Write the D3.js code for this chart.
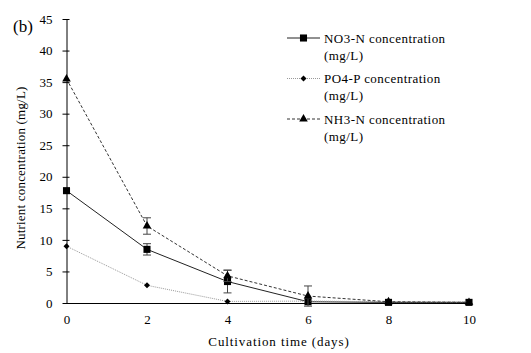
<!DOCTYPE html>
<html>
<head>
<meta charset="utf-8">
<script src="https://cdnjs.cloudflare.com/ajax/libs/d3/7.8.5/d3.min.js"></script>
<style>
  body { margin: 0; background: #fff; }
  text { font-family: "Liberation Serif", "Times New Roman", serif; fill: #000; }
</style>
</head>
<body>
<div id="chart"></div>
<script>
// data
var days = [0, 2, 4, 6, 8, 10];
var no3 = [17.8, 8.5, 3.4, 0.2, 0.1, 0.1];
var no3Err = [0, 0.9, 1.8, 0, 0, 0];
var po4 = [9.0, 2.8, 0.25, 0.3, 0.2, 0.15];
var po4Err = [0, 0, 0, 0, 0, 0];
var nh3 = [35.5, 12.2, 4.3, 1.1, 0.2, 0.1];
var nh3Err = [0, 1.3, 0.9, 1.6, 0, 0];
var yTicks = [0, 5, 10, 15, 20, 25, 30, 35, 40, 45];
var xTicks = [0, 2, 4, 6, 8, 10];

var svgWidth = 531, svgHeight = 353;
var margin = { top: 19, right: 62, bottom: 50, left: 66.5 };
var chartWidth = svgWidth - margin.left - margin.right;
var chartHeight = svgHeight - margin.top - margin.bottom;

var svg = d3.select("#chart").append("svg")
  .attr("width", svgWidth)
  .attr("height", svgHeight);

var chartGroup = svg.append("g")
  .attr("transform", `translate(${margin.left}, ${margin.top})`);

var xScale = d3.scaleLinear().domain([0, 10]).range([0, chartWidth]);
var yScale = d3.scaleLinear().domain([0, 45]).range([chartHeight, 0]);

// y axis with ticks crossing the line
var leftAxis = d3.axisLeft(yScale).tickValues(yTicks).tickSize(0).tickPadding(14);
var yAxis = chartGroup.append("g").call(leftAxis);
yAxis.select(".domain").attr("stroke", "#000");
yAxis.selectAll(".tick line").attr("x1", -4).attr("x2", 3).attr("stroke", "#000");
yAxis.selectAll(".tick text")
  .attr("font-size", "13px")
  .attr("font-family", "Liberation Serif");

// x axis, no tick marks
var bottomAxis = d3.axisBottom(xScale).tickValues(xTicks).tickSize(0).tickPadding(12);
var xAxis = chartGroup.append("g")
  .attr("transform", `translate(0, ${chartHeight})`)
  .call(bottomAxis);
xAxis.select(".domain").attr("stroke", "#000");
xAxis.selectAll(".tick text")
  .attr("font-size", "13px")
  .attr("font-family", "Liberation Serif");

var series = [
  { name: "NO3-N concentration", vals: no3, err: no3Err, stroke: "#222", dash: null, shape: d3.symbolSquare, size: 50, rot: 0 },
  { name: "PO4-P concentration", vals: po4, err: po4Err, stroke: "#999", dash: "1,1", shape: d3.symbolSquare, size: 18, rot: 45 },
  { name: "NH3-N concentration", vals: nh3, err: nh3Err, stroke: "#333", dash: "3,2", shape: d3.symbolTriangle, size: 32, rot: 0 }
];

var line = d3.line()
  .x(d => xScale(d.x))
  .y(d => yScale(d.y));

series.forEach(s => {
  var pts = days.map((x, i) => ({ x: x, y: s.vals[i], e: s.err[i] }));

  chartGroup.append("path")
    .datum(pts)
    .attr("d", line)
    .attr("fill", "none")
    .attr("stroke", s.stroke)
    .attr("stroke-width", 1)
    .attr("stroke-dasharray", s.dash);

  // error bars
  var eb = chartGroup.selectAll(null)
    .data(pts.filter(d => d.e > 0))
    .enter().append("g")
    .attr("stroke", "#444")
    .attr("stroke-width", 1);
  eb.append("line")
    .attr("x1", d => xScale(d.x)).attr("x2", d => xScale(d.x))
    .attr("y1", d => yScale(d.y + d.e)).attr("y2", d => yScale(d.y - d.e));
  eb.append("line")
    .attr("x1", d => xScale(d.x) - 4).attr("x2", d => xScale(d.x) + 4)
    .attr("y1", d => yScale(d.y + d.e)).attr("y2", d => yScale(d.y + d.e));
  eb.append("line")
    .attr("x1", d => xScale(d.x) - 4).attr("x2", d => xScale(d.x) + 4)
    .attr("y1", d => yScale(d.y - d.e)).attr("y2", d => yScale(d.y - d.e));

  chartGroup.selectAll(null)
    .data(pts)
    .enter().append("path")
    .attr("d", d3.symbol().type(s.shape).size(s.size))
    .attr("transform", d => `translate(${xScale(d.x)}, ${yScale(d.y)}) rotate(${s.rot})`)
    .attr("fill", "#000");
});

// legend
var legend = svg.append("g").attr("transform", "translate(287, 38)");
series.forEach((s, i) => {
  var g = legend.append("g").attr("transform", `translate(0, ${i * 40.5})`);
  g.append("line")
    .attr("x1", 0).attr("x2", 33).attr("y1", 0).attr("y2", 0)
    .attr("stroke", s.stroke)
    .attr("stroke-dasharray", s.dash);
  g.append("path")
    .attr("d", d3.symbol().type(s.shape).size(s.size))
    .attr("transform", `translate(16.5, 0) rotate(${s.rot})`)
    .attr("fill", "#000");
  g.append("text")
    .attr("x", 37).attr("y", 4.5)
    .attr("font-size", "13px")
    .attr("letter-spacing", "0.45px")
    .text(s.name);
  g.append("text")
    .attr("x", 37).attr("y", 21.5)
    .attr("font-size", "13px")
    .attr("letter-spacing", "0.45px")
    .text("(mg/L)");
});

// panel label
svg.append("text")
  .attr("x", 13).attr("y", 32)
  .attr("font-size", "17px")
  .text("(b)");

// axis titles
svg.append("text")
  .attr("x", 279).attr("y", 346)
  .attr("text-anchor", "middle")
  .attr("font-size", "13px")
  .attr("letter-spacing", "0.9px")
  .text("Cultivation time (days)");

svg.append("text")
  .attr("transform", "translate(25, 168) rotate(-90)")
  .attr("text-anchor", "middle")
  .attr("font-size", "13px")
  .attr("letter-spacing", "0.2px")
  .text("Nutrient concentration (mg/L)");
</script>
</body>
</html>
